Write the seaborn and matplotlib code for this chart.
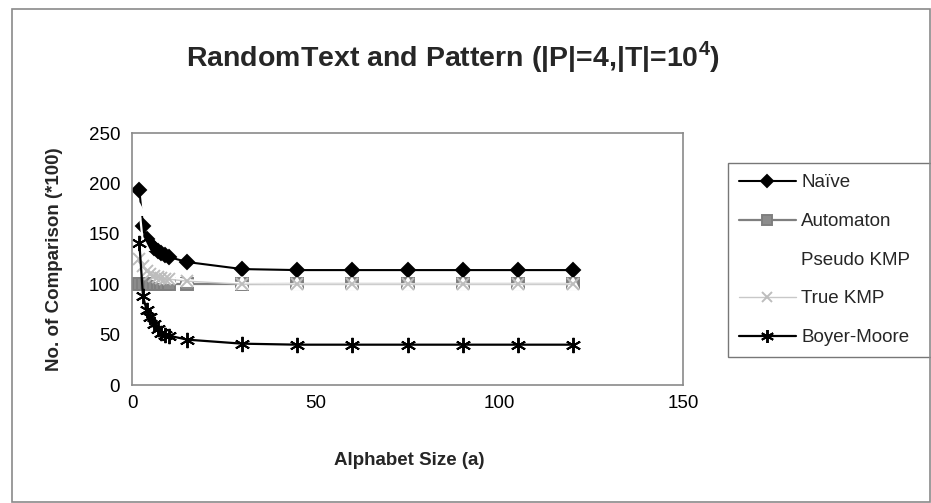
import matplotlib
matplotlib.use("Agg")
import matplotlib.pyplot as plt
import matplotlib.patches as mpatches
import seaborn as sns
import pandas as pd

# ---- data ----
alphabet_size = [2, 3, 4, 5, 6, 7, 8, 9, 10, 15, 30, 45, 60, 75, 90, 105, 120]
naive       = [193, 158, 145, 140, 136, 133, 131, 129, 127, 122, 115, 114, 114, 114, 114, 114, 114]
automaton   = [100, 100, 100, 100, 100, 100, 100, 100, 100, 100, 100, 100, 100, 100, 100, 100, 100]
pseudo_kmp  = [175, 140, 125, 118, 114, 111, 109, 108, 107, 104, 101, 100, 100, 100, 100, 100, 100]
true_kmp    = [125, 118, 113, 110, 108, 107, 106, 105, 105, 103, 100, 100, 100, 100, 100, 100, 100]
boyer_moore = [141, 88, 74, 67, 61, 56, 52, 50, 49, 45, 41, 40, 40, 40, 40, 40, 40]

series_names = ["Naïve", "Automaton", "Pseudo KMP", "True KMP", "Boyer-Moore"]
series_values = [naive, automaton, pseudo_kmp, true_kmp, boyer_moore]
x_ticks = [0, 50, 100, 150]
y_ticks = [0, 50, 100, 150, 200, 250]

title_text = r"RandomText and Pattern (|P|=4,|T|=10$^{\mathbf{4}}$)"
x_label = "Alphabet Size (a)"
y_label = "No. of Comparison (*100)"

# ---- styling ----
sns.set_theme(style="white")
plt.rcParams["font.family"] = ["Liberation Sans", "DejaVu Sans"]
plt.rcParams["mathtext.fontset"] = "custom"
plt.rcParams["mathtext.rm"] = "Liberation Sans:bold"
plt.rcParams["mathtext.bf"] = "Liberation Sans:bold"

styles = {
    "Naïve":       dict(color="black",   marker="D", markersize=7,  lw=1.5, mec="black",   mfc="black"),
    "Automaton":   dict(color="#7f7f7f", marker="s", markersize=8,  lw=1.6, mec="#7f7f7f", mfc="#8c8c8c"),
    "Pseudo KMP":  dict(color="white",   marker="^", markersize=8,  lw=1.6, mec="white",   mfc="white"),
    "True KMP":    dict(color="#c8c8c8", marker="x", markersize=8,  lw=1.0, mec="#bdbdbd", mfc="#bdbdbd"),
    "Boyer-Moore": dict(color="black",   marker=(6, 2, 0), markersize=11, lw=1.6, mec="black", mfc="black"),
}

W, H = 931, 503
fig = plt.figure(figsize=(W / 100, H / 100), dpi=100)
fig.patch.set_facecolor("white")
ax = fig.add_axes([132 / W, 1 - 385 / H, (683 - 132) / W, (385 - 133) / H])

df = pd.DataFrame({"a": alphabet_size})
for name, vals in zip(series_names, series_values):
    df[name] = vals
long_df = df.melt(id_vars="a", var_name="series", value_name="value")

for name in series_names:
    st = styles[name]
    sub = long_df[long_df["series"] == name]
    sns.lineplot(data=sub, x="a", y="value", ax=ax, color=st["color"],
                 marker=st["marker"], markersize=st["markersize"], linewidth=st["lw"],
                 markeredgecolor=st["mec"], markerfacecolor=st["mfc"], markeredgewidth=1.4,
                 label=name, legend=False, errorbar=None)

ax.set_xlim(0, 150)
ax.set_ylim(0, 250)
ax.set_xticks(x_ticks)
ax.set_yticks(y_ticks)
ax.tick_params(axis="both", labelsize=13.5, colors="#555555", labelcolor="black",
               length=5, width=1, direction="out")
ax.tick_params(axis="x", direction="inout", length=7)
for s in ax.spines.values():
    s.set_color("#8a8a8a")
    s.set_linewidth(1.2)
    s.set_visible(True)

ax.set_xlabel(x_label, fontsize=13.5, fontweight="bold", va="center")
ax.set_ylabel(y_label, fontsize=13.5, fontweight="bold", va="center")
ax.xaxis.set_label_coords(0.504, -0.298)
ax.yaxis.set_label_coords(-0.14, 0.5)

fig.text(453 / W, 1 - 57 / H, title_text, fontsize=20.5, fontweight="bold",
         ha="center", va="center")

handles, labels = ax.get_legend_handles_labels()
leg = ax.legend(handles, labels, loc="upper left",
                bbox_to_anchor=(728 / W, 1 - 357 / H, (932 - 728) / W, (357 - 163) / H),
                bbox_transform=fig.transFigure, mode="expand",
                fontsize=13.5, frameon=True, fancybox=False, handlelength=3.0,
                handletextpad=0.3, labelspacing=1.15, borderpad=0.6,
                borderaxespad=0.0, markerscale=0.85)
leg.get_frame().set_edgecolor("#555555")
leg.get_frame().set_linewidth(1.0)

# outer chart border
fig.patches.append(mpatches.Rectangle((12 / W, 1 / H), (W - 13) / W, (H - 10) / H,
                                      transform=fig.transFigure, fill=False,
                                      edgecolor="#8a8a8a", linewidth=1.2))

fig.savefig("out.png", dpi=100)
